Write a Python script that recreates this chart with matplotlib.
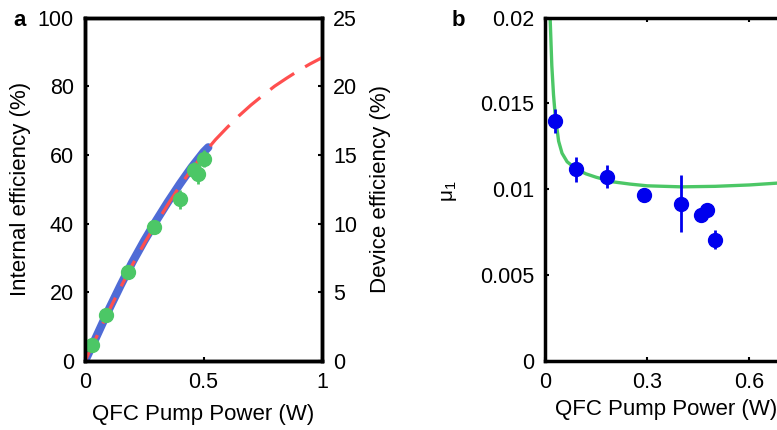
import matplotlib
matplotlib.use("Agg")
import matplotlib.pyplot as plt

plt.rcParams['font.family'] = ['Liberation Sans', 'DejaVu Sans']
plt.rcParams['font.size'] = 15.5

# Panel a: internal / device efficiency vs pump power
a_pts_x = [0.03, 0.09, 0.18, 0.29, 0.40, 0.46, 0.478, 0.503]
a_pts_y = [4.6, 13.3, 25.9, 39.0, 47.1, 55.5, 54.4, 58.9]
a_pts_err = [1.5, 1.5, 1.5, 2.0, 2.8, 2.5, 2.8, 2.5]

blue_x = [0, 0.05, 0.1, 0.15, 0.2, 0.25, 0.3, 0.35, 0.4, 0.45, 0.5, 0.52]
blue_y = [0, 7.4, 14.9, 22.0, 28.8, 35.0, 40.8, 46.3, 51.5, 56.4, 60.8, 62.2]

red_x = [0, 0.05, 0.1, 0.15, 0.2, 0.25, 0.3, 0.35, 0.4, 0.45, 0.5,
         0.55, 0.6, 0.65, 0.7, 0.75, 0.8, 0.85, 0.9, 0.95, 1.0]
red_y = [0, 7.2, 14.5, 21.4, 28.0, 34.2, 40.0, 45.6, 50.9, 55.8, 60.3,
         64.4, 68.0, 71.4, 74.5, 77.3, 80.0, 82.3, 84.5, 86.5, 88.3]

# Panel b: mu_1 vs pump power
b_pts_x = [0.029, 0.09, 0.181, 0.29, 0.40, 0.457, 0.477, 0.50]
b_pts_y = [0.0140, 0.01115, 0.01072, 0.00965, 0.00917, 0.00852, 0.00878, 0.00707]
b_pts_err = [0.0007, 0.0007, 0.00067, 0.0004, 0.00165, 0.0004, 0.0002, 0.00055]

fit_x = [0.015, 0.02, 0.025, 0.03, 0.04, 0.05, 0.065, 0.09, 0.12, 0.15,
         0.2, 0.25, 0.3, 0.4, 0.5, 0.6, 0.7, 0.8]
fit_y = [0.0200, 0.0172, 0.0155, 0.0143, 0.0128, 0.0121, 0.0116, 0.0112,
         0.0109, 0.0107, 0.01043, 0.0103, 0.0102, 0.01014, 0.01017,
         0.01025, 0.01038, 0.0105]

W, H = 777, 430
fig = plt.figure(figsize=(W / 100, H / 100), dpi=100)

def ax_rect(x0, y0, x1, y1):
    return [x0 / W, 1 - y1 / H, (x1 - x0) / W, (y1 - y0) / H]

green = '#4cc766'

# ---- panel a ----
ax = fig.add_axes(ax_rect(85, 17.5, 322, 361))
ax.plot(blue_x, blue_y, color='#4f6bd6', lw=6, solid_capstyle='round', zorder=2)
ax.plot(red_x, red_y, color='#ff4f4f', lw=2.3, dashes=(9, 4), zorder=3)
ax.errorbar(a_pts_x, a_pts_y, yerr=a_pts_err, fmt='o', color=green, ms=10,
            elinewidth=2, capsize=0, zorder=4)
ax.set_xlim(0, 1)
ax.set_ylim(0, 100)
ax.set_xticks([0, 0.5, 1])
ax.set_xticklabels(['0', '0.5', '1'])
ax.set_yticks([0, 20, 40, 60, 80, 100])
ax.set_xlabel('QFC Pump Power (W)', fontsize=16)
ax.xaxis.set_label_coords(0.5, -0.125)
ax.set_ylabel('Internal efficiency (%)', fontsize=16, labelpad=5)
ax.tick_params(direction='in', length=3, width=1.5, pad=8)
for s in ax.spines.values():
    s.set_linewidth(2.5)

ax2 = ax.twinx()
ax2.set_ylim(0, 25)
ax2.set_yticks([0, 5, 10, 15, 20, 25])
ax2.set_ylabel('Device efficiency (%)', fontsize=16, labelpad=9)
ax2.tick_params(direction='in', length=3, width=1.5, pad=8)
for s in ax2.spines.values():
    s.set_linewidth(2.5)

fig.text(13 / W, 1 - 20 / H, 'a', fontsize=16, fontweight='bold', va='center')

# ---- panel b ----
bx = fig.add_axes(ax_rect(545, 17.5, 545 + 0.9 * 340.5, 361))
bx.plot(fit_x, fit_y, color=green, lw=2.4, zorder=2)
bx.errorbar(b_pts_x, b_pts_y, yerr=b_pts_err, fmt='o', color='#0000ee', ms=10,
            elinewidth=2, capsize=0, zorder=3)
bx.set_xlim(0, 0.9)
bx.set_ylim(0, 0.02)
bx.set_xticks([0, 0.3, 0.6])
bx.set_xticklabels(['0', '0.3', '0.6'])
bx.set_yticks([0, 0.005, 0.01, 0.015, 0.02])
bx.set_yticklabels(['0', '0.005', '0.01', '0.015', '0.02'])
bx.set_xlabel('QFC Pump Power (W)', fontsize=16)
bx.xaxis.set_label_coords(121 / 306.5, -0.11)
bx.set_ylabel(r'μ$_{\mathregular{1}}$', fontsize=15)
bx.yaxis.set_label_coords(-(545 - 459) / 306.5, 0.495)
bx.tick_params(direction='in', length=3, width=1.5, pad=8, top=True)
for s in bx.spines.values():
    s.set_linewidth(2.5)

fig.text(452 / W, 1 - 20 / H, 'b', fontsize=16, fontweight='bold', va='center')

fig.savefig('out.png', dpi=100)
